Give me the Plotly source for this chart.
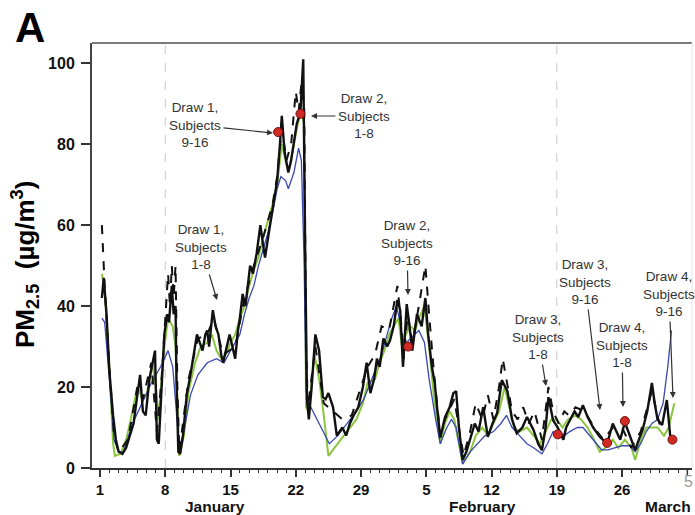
import plotly.graph_objects as go

# ---------------- data (day 1 = January 1) ----------------
bk_day = [1.2,1.4,1.7,2.0,2.4,2.7,3.0,3.4,3.8,4.2,4.6,5.0,5.3,5.6,5.9,6.3,6.7,6.9,7.0,7.1,7.3,7.6,7.9,8.2,8.4,8.7,8.9,9.1,9.2,9.4,9.6,9.9,
          10.3,10.7,11.0,11.4,11.7,12.0,12.3,12.5,12.7,12.9,13.1,13.4,13.7,14.0,14.2,14.5,14.9,15.2,15.5,15.8,16.0,16.3,16.6,17.1,17.4,17.8,
          18.2,18.5,18.7,19.1,19.5,20.0,20.3,20.5,20.8,21.0,21.2,21.5,21.7,22.1,22.5,22.8,23.0,23.2,23.4,23.7,24.1,24.5,24.9,25.2,25.5,26.0,
          26.4,27.0,27.4,27.8,28.2,28.7,29.2,29.6,30.0,30.4,30.7,31.0,31.4,31.8,32.1,32.5,32.9,33.2,33.5,33.9,34.2,34.5,35.0,35.5,35.9,36.2,
          36.6,36.9,37.2,37.5,38.0,38.5,38.9,39.2,39.5,39.9,40.3,40.7,41.2,41.6,42.1,42.6,43.1,43.6,44.1,44.7,45.2,45.7,46.3,46.8,47.5,48.0,
          48.4,48.8,49.1,49.6,50.1,50.7,51.0,51.4,51.9,52.3,52.8,53.3,53.9,54.6,55.4,56.0,56.4,56.8,57.3,57.8,58.4,58.8,59.2,59.7,60.2,60.5,
          60.8,61.3,61.8,62.2]
bk_val = [42,47,38,24,13,7,4,3.5,5,8,11,18,23,14,13,22,27,29,18,7,6,20,33,38,36,45,38,40,22,4,3.5,8,
          18,23,27,33,31,29,33,34,30,34,39,35,33,28,26,29,33,30,27,34,37,43,40,50,48,53,
          60,55,52,58,64,71,80,87,78,75,73,76,79,85,88,101,55,17,12,20,33,29,17.5,17,18.5,15,
          8,10,8,11,13,15,20,26,18.5,22,27,25,32,30,31.5,35,41.5,39,25,40.5,35,29,38,35,42,33,
          25,21,14,7.5,12.5,15,18.5,19,10,2,4,7,11,9,15,7.7,11,13.6,21.7,19,12,8.6,10,12.6,9.4,6,
          4.4,10,17.5,11.8,10,7,10,11.8,14,12.6,15.5,12.6,10,7.7,6,11,9,7,11.3,8,4.4,7,9.4,14,21,16,
          12,10.6,16.8,7]

dash_day = [1.2,1.5,2.0,2.5,3.0,4.0,5.0,5.6,6.5,7.1,7.6,8.0,8.3,8.5,8.7,8.9,9.1,9.3,9.5,10.5,11.5,12.5,13.2,14.2,15.5,16.5,17.5,
            18.5,19.5,20.0,20.5,21.0,21.5,22.0,22.3,22.6,22.9,23.1,23.3,24.1,25.0,26.0,27.0,28.0,29.0,29.7,30.5,31.2,32.0,32.9,33.3,
            33.6,34.0,34.5,35.2,35.9,36.3,36.8,37.5,38.0,39.0,40.0,40.7,41.3,42.0,42.6,43.2,43.8,44.2,44.6,45.2,45.8,46.4,47.0,47.6,
            48.4,49.1,49.6,50.2,50.8,51.3,52.0,53.0,54.0,55.0,56.0,57.0,58.0,59.0,60.2,61.0,62.0]
dash_val = [60,45,25,8,4,7,20,17,26,9,22,38,48,40,50,42,50,20,4,22,32,33,37,28,30,42,50,
            57,65,72,84,76,80,93,88,95,90,30,15,30,16,14,12,13,20,25,28,35,34,45,36,
            27,38,31,40,50,38,24,8,12,17,3,9,16,12,18,12,20,27,22,14,12,15,11,14,
            7,20,14,11,14,13,15,14,10,7,10,10,5,9,19,11,10]

gr_day = [1.2,1.5,2.0,2.4,2.6,3.2,3.8,4.3,5.0,5.6,6.0,6.6,7.0,7.3,7.8,8.3,8.8,9.1,9.5,10.0,10.5,11.2,11.8,12.5,13.0,13.5,14.0,
          14.5,15.0,15.5,16.0,16.5,17.0,17.5,18.0,18.5,19.0,19.5,20.0,20.5,21.0,21.3,21.8,22.2,22.6,22.9,23.1,23.4,24.0,24.5,25.0,
          25.5,26.5,27.5,28.5,29.2,29.7,30.5,31.0,31.5,32.0,32.5,33.0,33.4,33.8,34.3,34.8,35.2,35.8,36.3,36.8,37.5,38.0,38.5,39.0,
          39.9,40.7,41.3,42.0,42.6,43.2,43.8,44.4,44.8,45.4,46.0,46.8,47.5,48.2,48.8,49.4,50.0,50.6,51.2,52.0,52.6,53.3,54.0,54.6,
          55.2,56.0,56.6,57.3,58.0,58.4,59.0,59.6,60.2,60.8,61.5,62.0,62.6]
gr_val = [48,44,25,6,3,3.5,7,12,20,17,18,26,20,12,28,37,35,30,3,8,19,26,30,31,33,29,27,
          28,31,33,37,40,45,49,52,57,61,65,70,80,75,74,80,85,88,85,15,14,28,22,13,
          3,6,9,12,16,21,22,26,29,33,35,37,30,33,35,34,37,40,30,18,6,11,14,12,
          1,4,8,10,8,11,14,20,16,10,9,10,8,6,9,12,12,10,12,13,12,10,7,4,
          5,7,5,7,5,2,7,10,10,10,8,10,16]

bl_day = [1.2,1.5,2.0,2.5,3.0,3.5,4.5,5.5,6.5,7.5,8.3,8.8,9.2,9.5,10.0,10.7,11.5,12.5,13.5,14.3,15.0,15.5,16.0,16.5,17.0,17.5,
          18.0,18.5,19.0,19.5,20.0,20.4,20.9,21.2,21.8,22.3,22.6,22.9,23.1,23.4,25.6,26.5,27.5,28.5,29.3,29.8,30.5,31.2,31.8,32.3,
          32.8,33.2,33.5,33.9,34.3,35.2,35.8,36.3,37.0,37.5,38.2,38.7,39.2,39.9,40.7,41.5,42.3,43.2,44.0,44.6,45.2,46.0,46.8,47.5,
          48.4,49.0,49.6,50.2,50.8,51.4,52.2,52.8,53.5,54.2,54.8,55.5,56.3,57.0,57.8,58.4,59.0,59.6,60.2,60.8,61.4,61.9,62.3]
bl_val = [37,36,22,7,4,4,11,16,21,25,29,25,14,5,9,18,23,26,27,26,29,31,33,38,42,45,
          50,54,58,63,69,72,71,69,73,79,76,50,19,16,6,8,11,14,17,20,24,28,33,37,
          40,36,29,31,32,34,31,22,12,6,10,12,10,1,4,6,8,9,11,13,10,8,6,5,
          3.5,6,9,9,8,9,10,10,8,6,4.5,4.5,5,5.5,5.5,4,6,9,11,12,16,25,34]

draw_day = [20.1, 22.5, 34.05, 50.1, 55.4, 57.3, 62.4]
draw_val = [83, 87.5, 30, 8.3, 6.2, 11.6, 7]

major_days = [1, 8, 15, 22, 29, 36, 43, 50, 57]
major_text = ["1", "8", "15", "22", "29", "5", "12", "19", "26"]
last_tick_day = 64
month_labels = ["January", "February", "March"]
ref_days = [8, 50]
y_ticks = [0, 20, 40, 60, 80, 100]

FONT = "Liberation Sans, Arial, sans-serif"

fig = go.Figure()
fig.add_trace(go.Scatter(x=gr_day, y=gr_val, mode="lines",
                         line=dict(color="#8cc63f", width=2)))
fig.add_trace(go.Scatter(x=bl_day, y=bl_val, mode="lines",
                         line=dict(color="#3a48b0", width=1.3)))
fig.add_trace(go.Scatter(x=dash_day, y=dash_val, mode="lines",
                         line=dict(color="#111111", width=2, dash="dash")))
fig.add_trace(go.Scatter(x=bk_day, y=bk_val, mode="lines",
                         line=dict(color="#111111", width=2.4)))
fig.add_trace(go.Scatter(x=draw_day, y=draw_val, mode="markers",
                         marker=dict(color="#d02a25", size=9,
                                     line=dict(color="#7a1010", width=1))))

# layout helpers (pixel -> paper), plot area 92..692 x 43..468
L, R, T, B = 92, 692, 43, 468
def px(xp):
    return (xp - L) / (R - L)
def py(yp):
    return (B - yp) / (B - T)

shapes = []
for d in ref_days:
    shapes.append(dict(type="line", xref="x", yref="paper", x0=d, x1=d, y0=0, y1=1,
                       line=dict(color="#c8c8c8", width=1, dash="dash"), layer="below"))
shapes.append(dict(type="line", xref="paper", yref="paper", x0=0, x1=1, y0=1, y1=1,
                   line=dict(color="#7a7a7a", width=2)))
shapes.append(dict(type="line", xref="paper", yref="paper", x0=1, x1=1, y0=0, y1=1,
                   line=dict(color="#e4e4e4", width=1)))
# major tick at March 5 (unlabelled in the axis; its label is drawn separately)
shapes.append(dict(type="line", xref="x", yref="paper", x0=last_tick_day, x1=last_tick_day,
                   y0=0, y1=-7 / (B - T), line=dict(color="#333", width=1.5)))

ann = []
ann.append(dict(text="<b>A</b>", x=px(30), y=py(27), xref="paper", yref="paper",
                showarrow=False, font=dict(size=42, color="#000", family=FONT),
                xanchor="center", yanchor="middle"))
ann.append(dict(text="<b>PM<sub>2.5</sub>  (µg/m<sup>3</sup>)</b>", x=px(25), y=py(265),
                xref="paper", yref="paper", showarrow=False, textangle=-90,
                font=dict(size=26, color="#000", family=FONT),
                xanchor="center", yanchor="middle"))
for name, xp in zip(month_labels, [215, 482, 668]):
    ann.append(dict(text="<b>%s</b>" % name, x=px(xp), y=py(506), xref="paper", yref="paper",
                    showarrow=False, font=dict(size=15.5, color="#111", family=FONT),
                    xanchor="center", yanchor="middle"))
ann.append(dict(text="5", x=px(688), y=py(481), xref="paper", yref="paper",
                showarrow=False, font=dict(size=16, color="#9a9a9a", family=FONT),
                xanchor="center", yanchor="middle"))

labels = [
    ("Draw 1,<br>Subjects<br>9-16", (195, 125), (273, 133)),
    ("Draw 2,<br>Subjects<br>1-8", (364, 116), (311, 116)),
    ("Draw 1,<br>Subjects<br>1-8", (201, 247), (217, 300)),
    ("Draw 2,<br>Subjects<br>9-16", (407, 243), (408, 295)),
    ("Draw 3,<br>Subjects<br>1-8", (538, 337), (546, 386)),
    ("Draw 3,<br>Subjects<br>9-16", (585, 282), (600, 410)),
    ("Draw 4,<br>Subjects<br>1-8", (622, 345), (623, 407)),
    ("Draw 4,<br>Subjects<br>9-16", (669, 294), (673, 398)),
]
for txt, (cx, cy), (hx, hy) in labels:
    ann.append(dict(text=txt, x=px(hx), y=py(hy), xref="paper", yref="paper",
                    showarrow=True, ax=cx - hx, ay=cy - hy, axref="pixel", ayref="pixel",
                    arrowhead=2, arrowsize=1, arrowwidth=1.2, arrowcolor="#333",
                    font=dict(size=13.5, color="#333", family=FONT),
                    align="center", borderpad=2))

fig.update_layout(
    width=695, height=515, autosize=False,
    margin=dict(l=L, r=695 - R, t=T, b=515 - B, pad=0),
    paper_bgcolor="white", plot_bgcolor="white",
    showlegend=False,
    font=dict(family=FONT, color="#111"),
    shapes=shapes, annotations=ann,
    xaxis=dict(range=[0.14, 64.5], showgrid=False, zeroline=False,
               showline=True, linecolor="#333", linewidth=1.5,
               tickmode="array", tickvals=major_days, ticktext=["<b>%s</b>" % t for t in major_text],
               ticks="outside", ticklen=7, tickwidth=1.5, tickcolor="#333",
               tickfont=dict(size=15, color="#111", family=FONT),
               minor=dict(dtick=1, tick0=1, ticks="outside", ticklen=3.5, tickwidth=1.2, tickcolor="#333")),
    yaxis=dict(range=[0, 105], showgrid=False, zeroline=False,
               showline=True, linecolor="#444", linewidth=2,
               tickmode="array", tickvals=y_ticks, ticktext=["<b>%d</b>" % v for v in y_ticks],
               ticks="outside", ticklen=9, tickwidth=1.5, tickcolor="#333",
               ticklabelstandoff=3,
               tickfont=dict(size=16, color="#111", family=FONT)),
)

fig.write_html("out.html", config={"displayModeBar": False})
